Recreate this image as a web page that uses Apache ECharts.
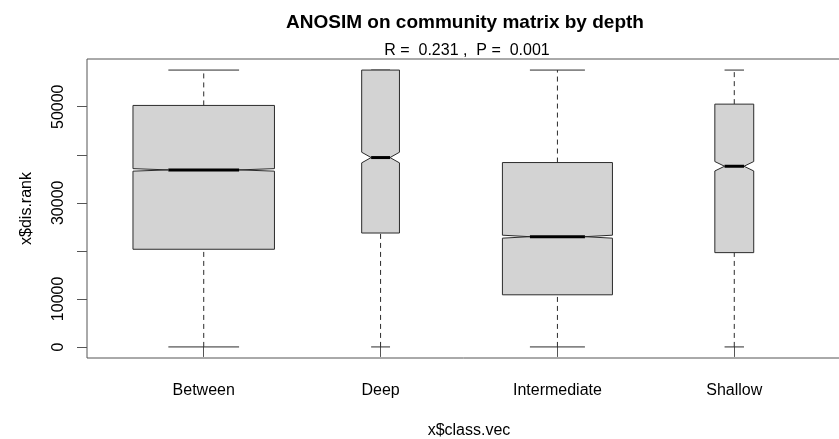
<!DOCTYPE html>
<html>
<head>
<meta charset="utf-8">
<script src="https://cdn.jsdelivr.net/npm/echarts@6/dist/echarts.min.js"></script>
<style>
  html, body { margin: 0; padding: 0; background: #ffffff; }
  #chart { width: 839px; height: 439px; }
</style>
</head>
<body>
<div id="chart"></div>
<script>
// Rank dissimilarities grouped by depth class (ANOSIM)
const categories = ['Between', 'Deep', 'Intermediate', 'Shallow'];
const whiskerLow = [1, 1, 1, 1];
const lowerQuartile = [20330, 23710, 10850, 19630];
const medians = [36850, 39420, 22950, 37610];
const upperQuartile = [50270, 57630, 38380, 50540];
const whiskerHigh = [57630, 57630, 57630, 57630];
// number of pairwise distances in each class
const groupSize = [32899, 2346, 19900, 2485];

const yTicks = [0, 10000, 20000, 30000, 40000, 50000];
const yTickLabels = [0, 10000, 30000, 50000];

const FONT = '"Liberation Sans", Arial, sans-serif';
const INK = '#2b2b2b';

const chart = echarts.init(document.getElementById('chart'), null, { renderer: 'canvas' });

const maxRoot = Math.sqrt(Math.max.apply(null, groupSize));
const seriesData = categories.map(function (c, i) {
  return [i + 1, whiskerLow[i], lowerQuartile[i], medians[i], upperQuartile[i], whiskerHigh[i], groupSize[i]];
});

// overall data range, padded 4% on each side like base graphics
const dataMin = Math.min.apply(null, whiskerLow);
const dataMax = Math.max.apply(null, whiskerHigh);
const pad = (dataMax - dataMin) * 0.04;

function renderBox(params, api) {
  const x = api.value(0);
  const lo = api.value(1), q1 = api.value(2), med = api.value(3), q3 = api.value(4), hi = api.value(5);
  const n = api.value(6);
  // varwidth: width proportional to sqrt(n), widest box 0.8 units
  const halfUnits = 0.4 * Math.sqrt(n) / maxRoot;
  const unitPx = api.size([1, 0])[0];
  const wbox = halfUnits * unitPx;
  const wntch = 0.5 * wbox;
  const notch = 1.58 * (q3 - q1) / Math.sqrt(n);
  const nLo = med - notch, nHi = med + notch;

  const cx = api.coord([x, med])[0];
  const Y = function (v) { return api.coord([x, v])[1]; };

  const poly = [
    [cx - wbox, Y(q1)], [cx - wbox, Y(nLo)], [cx - wntch, Y(med)], [cx - wbox, Y(nHi)], [cx - wbox, Y(q3)],
    [cx + wbox, Y(q3)], [cx + wbox, Y(nHi)], [cx + wntch, Y(med)], [cx + wbox, Y(nLo)], [cx + wbox, Y(q1)]
  ];
  const dash = { stroke: INK, lineWidth: 1, lineDash: [5, 4] };
  const solid = { stroke: INK, lineWidth: 1 };
  return {
    type: 'group',
    children: [
      { type: 'line', shape: { x1: cx, y1: Y(lo), x2: cx, y2: Y(q1) }, style: dash },
      { type: 'line', shape: { x1: cx, y1: Y(q3), x2: cx, y2: Y(hi) }, style: dash },
      { type: 'line', shape: { x1: cx - 0.5 * wbox, y1: Y(lo), x2: cx + 0.5 * wbox, y2: Y(lo) }, style: solid },
      { type: 'line', shape: { x1: cx - 0.5 * wbox, y1: Y(hi), x2: cx + 0.5 * wbox, y2: Y(hi) }, style: solid },
      { type: 'polygon', shape: { points: poly }, style: { fill: '#d3d3d3', stroke: INK, lineWidth: 1 } },
      { type: 'line', shape: { x1: cx - wntch, y1: Y(med), x2: cx + wntch, y2: Y(med) }, style: { stroke: '#000', lineWidth: 3 } }
    ]
  };
}

chart.setOption({
  backgroundColor: '#ffffff',
  animation: false,
  title: [
    {
      text: 'ANOSIM on community matrix by depth',
      left: 460, top: 8, textAlign: 'center',
      textStyle: { fontFamily: FONT, fontWeight: 'bold', fontSize: 19, color: '#000' }
    },
    {
      text: 'R =  0.231 ,  P =  0.001',
      left: 462, top: 38, textAlign: 'center',
      textStyle: { fontFamily: FONT, fontWeight: 'normal', fontSize: 16, color: '#000' }
    }
  ],
  grid: {
    left: 87, top: 59, width: 764, height: 299,
    outerBoundsMode: 'none', containLabel: false,
    show: true, borderColor: '#555', borderWidth: 1, backgroundColor: 'transparent'
  },
  xAxis: {
    type: 'value',
    min: 0.34, max: 4.66,
    name: 'x$class.vec', nameLocation: 'middle', nameGap: 65,
    nameTextStyle: { fontFamily: FONT, fontSize: 16, color: '#000' },
    axisLine: { show: false },
    axisTick: { show: true, length: 10, customValues: [1, 2, 3, 4], lineStyle: { color: '#555' } },
    axisLabel: {
      customValues: [1, 2, 3, 4], margin: 25,
      fontFamily: FONT, fontSize: 16, color: '#000',
      formatter: function (v) { return categories[Math.round(v) - 1]; }
    },
    splitLine: { show: false }
  },
  yAxis: {
    type: 'value',
    min: dataMin - pad, max: dataMax + pad,
    name: 'x$dis.rank', nameLocation: 'middle', nameGap: 52,
    nameTextStyle: { fontFamily: FONT, fontSize: 16, color: '#000' },
    axisLine: { show: false },
    axisTick: { show: true, length: 10, customValues: yTicks, lineStyle: { color: '#555' } },
    axisLabel: {
      customValues: yTickLabels, rotate: 90, margin: 20,
      fontFamily: FONT, fontSize: 16, color: '#000',
      formatter: function (v) { return String(v); }
    },
    splitLine: { show: false }
  },
  series: [{
    type: 'custom',
    renderItem: renderBox,
    encode: { x: 0, y: [1, 2, 3, 4, 5] },
    data: seriesData,
    clip: false
  }]
});
</script>
</body>
</html>
